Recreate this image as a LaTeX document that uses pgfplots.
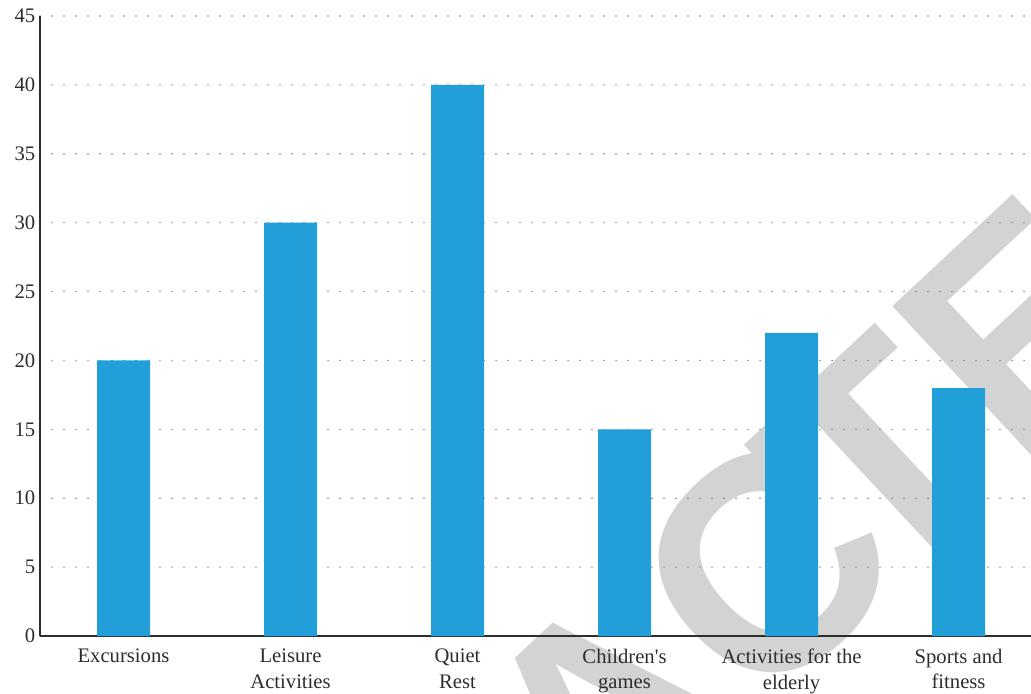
\documentclass[border=0pt]{standalone}
\usepackage{fontspec}
\setmainfont{Liberation Serif}
\newfontfamily\wmfont[Kerning=Off]{Liberation Sans}
\usepackage{pgfplots}
\pgfplotsset{compat=1.18}
\definecolor{barblue}{RGB}{34,158,216}
\definecolor{txt}{RGB}{45,45,45}
\definecolor{wm}{RGB}{211,211,211}
\begin{document}
\begin{tikzpicture}
\path[use as bounding box] (-30pt,-42.75pt) rectangle (743.25pt,477pt);
\node[rotate=43, anchor=base west, text=wm, inner sep=0pt, font=\wmfont\bfseries\fontsize{228}{228}\selectfont] at (-36.8pt,-597.9pt) {RETRAC\kern-0.15em TED};
\begin{axis}[
  at={(0pt,0pt)}, anchor=south west,
  scale only axis, width=743.25pt, height=465pt,
  xmin=-0.5, xmax=5.434, ymin=0, ymax=45,
  axis x line=bottom, axis y line=left,
  axis line style={txt, line width=1.1pt, -},
  ytick={0,5,...,45}, xtick={0,1,2,3,4,5},
  xticklabels={Excursions, Leisure\\Activities, Quiet\\Rest, Children\textquotesingle s\\games, Activities for the\\elderly, Sports and\\fitness},
  xticklabel style={align=center, font=\fontsize{15.5}{19.3}\selectfont, text=txt, anchor=north, yshift=-6pt},
  yticklabel style={font=\fontsize{15.5}{16.5}\selectfont, text=txt},
  major tick length=0pt,
  ymajorgrids, grid style={gray, line width=1.2pt, dash pattern=on 0pt off 9pt, line cap=round},
  /pgf/number format/assume math mode=true,
  ybar, bar width=39.75pt,
]
\addplot[fill=barblue, draw=none] coordinates {(0,20) (1,30) (2,40) (3,15) (4,22) (5,18)};
\end{axis}
\end{tikzpicture}
\end{document}
